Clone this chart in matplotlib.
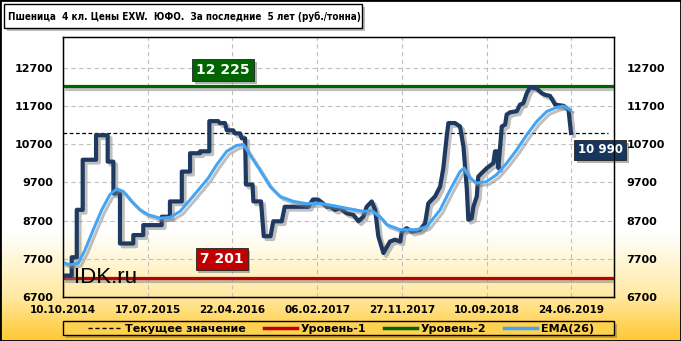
import numpy as np
import matplotlib
matplotlib.use("Agg")
import matplotlib.pyplot as plt
from matplotlib import font_manager as fm
from matplotlib.lines import Line2D
from matplotlib.patches import Rectangle
import matplotlib.patheffects as pe

# --- data (x = week index from 10.10.2014) ---
price_x = [0.5, 4.1, 4.1, 6.5, 6.5, 9.3, 9.3, 15.6, 15.6, 21.1, 21.1, 23.8, 23.8, 26.9, 26.9,
           33.2, 33.2, 37.9, 37.9, 46.6, 46.6, 50.5, 50.5, 56.1, 56.1, 60.0, 60.0, 64.7, 64.7,
           69.1, 69.1, 73.3, 74.0, 76.5, 77.3, 80.4, 81.2, 83.6, 84.4, 86.0, 86.4, 89.5, 89.9,
           93.5, 94.8, 98.0, 99.3, 103.3, 104.7, 115.9, 118.0, 120.4, 122.8, 124.5, 126.1,
           128.5, 130.8, 134.0, 137.1, 139.5, 141.8, 143.4, 145.8, 147.4, 148.9, 151.3, 154.4,
           156.8, 159.2, 160.0, 162.3, 164.7, 168.6, 171.0, 172.5, 175.7, 178.1, 179.6, 181.2,
           182.0, 185.1, 187.5, 189.1, 190.7, 191.4, 193.0, 193.8, 195.4, 196.1, 197.7, 200.1,
           203.2, 204.0, 204.8, 205.6, 207.2, 208.8, 209.5, 211.1, 214.3, 215.8, 217.4, 219.0,
           220.6, 223.7, 226.1, 227.6, 230.0, 232.4, 236.4, 238.7, 239.9]
price_y = [7260, 7260, 7740, 7740, 8980, 8980, 10290, 10290, 10930, 10930, 10240, 10240, 9410, 9410, 8100,
           8100, 8320, 8320, 8580, 8580, 8800, 8800, 9200, 9200, 9980, 9980, 10460, 10460, 10510,
           10510, 11300, 11300, 11250, 11250, 11060, 11060, 10980, 10980, 10850, 10850, 9640, 9640, 9200,
           9200, 8290, 8290, 8680, 8680, 9060, 9060, 9250, 9250, 9150, 9060, 9060,
           8980, 9020, 8890, 8850, 8680, 8800, 9060, 9200, 8980, 8290, 7850, 8150,
           8200, 8150, 8410, 8500, 8410, 8460, 8630, 9150, 9330, 9590, 10070, 10900,
           11250, 11250, 11160, 10640, 9520, 8720, 8760, 9060, 9330, 9850, 9940, 10070,
           10200, 10510, 10510, 10070, 11160, 11210, 11470, 11530, 11560, 11730, 11770, 12030,
           12190, 12150, 12030, 11990, 11960, 11730, 11700, 11600, 10990]

ema_x = [0.1, 3.3, 7.2, 10.4, 14.3, 18.3, 22.2, 25.4, 28.5, 32.4, 36.4, 40.3, 43.5, 45.8, 50.5,
         55.3, 60.0, 64.7, 68.6, 72.6, 77.3, 82.0, 85.2, 88.3, 93.0, 97.8, 102.5, 108.8, 115.1,
         121.4, 128.5, 134.0, 141.8, 145.8, 149.7, 152.9, 159.2, 167.0, 171.8, 178.1, 182.8,
         187.5, 189.4, 192.2, 195.4, 200.1, 204.8, 209.5, 214.3, 219.0, 223.7, 228.4, 233.2,
         236.4, 239.5]
ema_y = [7600, 7540, 7580, 7930, 8460, 8980, 9380, 9530, 9460, 9200, 8980, 8850, 8800, 8760, 8780,
         8940, 9240, 9550, 9810, 10160, 10510, 10660, 10690, 10420, 10020, 9590, 9330, 9200, 9140,
         9150, 9080, 9020, 8940, 8960, 8800, 8590, 8460, 8460, 8540, 8980, 9500,
         9980, 10070, 9810, 9680, 9720, 9900, 10200, 10550, 10940, 11290, 11550, 11660,
         11690, 11600]

level1 = 7201
level2 = 12225
current = 10990

date_labels = ["10.10.2014", "17.07.2015", "22.04.2016", "06.02.2017",
               "27.11.2017", "10.09.2018", "24.06.2019"]
y_ticks = [6700, 7700, 8700, 9700, 10700, 11700, 12700]

title = "Пшеница  4 кл. Цены EXW.  ЮФО.  За последние  5 лет (руб./тонна)"

W, H = 681, 341
DARK = "#1F3A60"
EMA_C = "#45A5F5"
RED = "#C00000"
GREEN = "#006400"


def bg_rgb(ypix):
    """background gradient colour at pixel row ypix (from top)"""
    stops = [0, 232, 270, 297, 320, 341]
    r = [255, 255, 255, 255, 255, 255]
    g = [255, 255, 243, 232, 215, 200]
    b = [255, 255, 200, 160, 100, 50]
    return np.array([np.interp(ypix, stops, r), np.interp(ypix, stops, g),
                     np.interp(ypix, stops, b)]).T / 255.0


def narrow_font():
    """first condensed bold face that is installed, else Liberation Sans bold"""
    for fam, stretch in [("Liberation Sans Narrow", "normal"), ("DejaVu Sans", "condensed"),
                         ("Roboto Condensed", "normal"), ("Open Sans Condensed", "normal")]:
        fp = fm.FontProperties(family=fam, weight="bold", stretch=stretch)
        try:
            path = fm.findfont(fp, fallback_to_default=False)
        except ValueError:
            continue
        if fam != "DejaVu Sans" or "Condensed" in path:
            return fp
    return fm.FontProperties(family="Liberation Sans", weight="bold")


def fx(px):
    return px / W


def fy(py):
    return 1 - py / H


fig = plt.figure(figsize=(W / 100, H / 100), dpi=100)

# background gradient
bg = fig.add_axes([0, 0, 1, 1], zorder=-10)
grad = bg_rgb(np.arange(H) + 0.5)[:, None, :]
bg.imshow(grad, aspect="auto", extent=[0, 1, 0, 1], interpolation="bilinear")
bg.set_axis_off()

ax = fig.add_axes([fx(63), fy(297), fx(551), 260 / H])
ax.patch.set_alpha(0)
ax.set_xlim(0, 260.2)
ax.set_ylim(6700, 13500)

shadow = [pe.SimpleLineShadow(offset=(2, -2), shadow_color="gray", alpha=0.5), pe.Normal()]

ax.axhline(level2, color=GREEN, lw=2.3, path_effects=shadow, zorder=3)
ax.axhline(level1, color=RED, lw=2.3, path_effects=shadow, zorder=3)
ax.axhline(current, xmin=0, xmax=0.99, color="black", lw=0.9, dashes=(3, 2), zorder=3)
ax.plot(price_x, price_y, color=DARK, lw=3, solid_joinstyle="round",
        path_effects=shadow, zorder=4)
ax.plot(ema_x, ema_y, color=EMA_C, lw=2.2, path_effects=shadow, zorder=5)

# grid
ax.set_xticks([40 * i for i in range(len(date_labels))])
ax.set_xticklabels(date_labels, fontsize=7.5, fontweight="bold")
ax.set_yticks(y_ticks)
ax.set_yticklabels([str(v) for v in y_ticks], fontsize=8, fontweight="bold")
ax.grid(True, color="#C0C0C0", lw=0.8, dashes=(4, 3))
ax.tick_params(length=0)
ax.tick_params(axis="x", pad=6)
ax.tick_params(axis="y", pad=7)
for s in ax.spines.values():
    s.set_linewidth(1)

ax_r = ax.twinx()
ax_r.set_ylim(6700, 13500)
ax_r.set_yticks(y_ticks)
ax_r.set_yticklabels([str(v) for v in y_ticks], fontsize=8, fontweight="bold")
ax_r.tick_params(length=0, pad=9)

# value labels
def tag(x, y, s, fc, size):
    t = ax.text(x, y, s, color="white", fontsize=size, fontweight="bold",
                ha="center", va="center", zorder=8, clip_on=False,
                bbox=dict(boxstyle="square,pad=0.3", fc=fc, ec="#222222", lw=0.6))
    t.get_bbox_patch().set_path_effects(
        [pe.SimplePatchShadow(offset=(2, -2), shadow_rgbFace="gray", alpha=0.6), pe.Normal()])
    return t

tag(75.6, 12630, "12 225", GREEN, 10)
tag(74.9, 7695, "7 201", RED, 10)
tag(253.6, 10550, "10 990", "#17365D", 8.5)

# watermark
fig.text(fx(74), fy(283), "IDK.ru", fontsize=16, family="Liberation Sans",
         color="black", va="baseline", zorder=10)

# title box
fig.patches.append(Rectangle((fx(7), fy(31)), fx(358), 24 / H, transform=fig.transFigure,
                             fc="#A0A0A0", ec="none", alpha=0.7, zorder=1))
fig.patches.append(Rectangle((fx(4), fy(28)), fx(358), 24 / H, transform=fig.transFigure,
                             fc="white", ec="black", lw=1, zorder=2))
tfont = narrow_font()
tfont.set_size(10)
t = fig.text(fx(8), fy(16.5), title, fontproperties=tfont, va="center", zorder=3)
renderer = fig.canvas.get_renderer()
w = t.get_window_extent(renderer).width
t.set_fontsize(min(10.5, 10 * 350 / w))

# legend box
fig.patches.append(Rectangle((fx(66), fy(338)), fx(551), 14.5 / H, transform=fig.transFigure,
                             fc="#A08040", ec="none", alpha=0.6, zorder=1))
fig.patches.append(Rectangle((fx(63), fy(335)), fx(551), 14.5 / H, transform=fig.transFigure,
                             fc=bg_rgb(328), ec="black", lw=1, zorder=2))
handles = [Line2D([], [], color="black", lw=1, dashes=(3, 2)),
           Line2D([], [], color=RED, lw=2.5),
           Line2D([], [], color=GREEN, lw=2.5),
           Line2D([], [], color=EMA_C, lw=2.5)]
labels = ["Текущее значение", "Уровень-1", "Уровень-2", "EMA(26)"]
leg = fig.legend(handles, labels, ncol=4, mode="expand", loc="lower left",
                 bbox_to_anchor=(fx(87), fy(335), fx(508), 14.5 / H),
                 frameon=False, prop=dict(size=8, weight="bold"),
                 handlelength=3.0, handletextpad=0.3, borderaxespad=0, borderpad=0.1)
leg.set_zorder(5)

# outer frame
fig.patches.append(Rectangle((0, 0), 1, 1, transform=fig.transFigure, fill=False,
                             ec="black", lw=2, zorder=20))

fig.savefig("out.png", dpi=100)
